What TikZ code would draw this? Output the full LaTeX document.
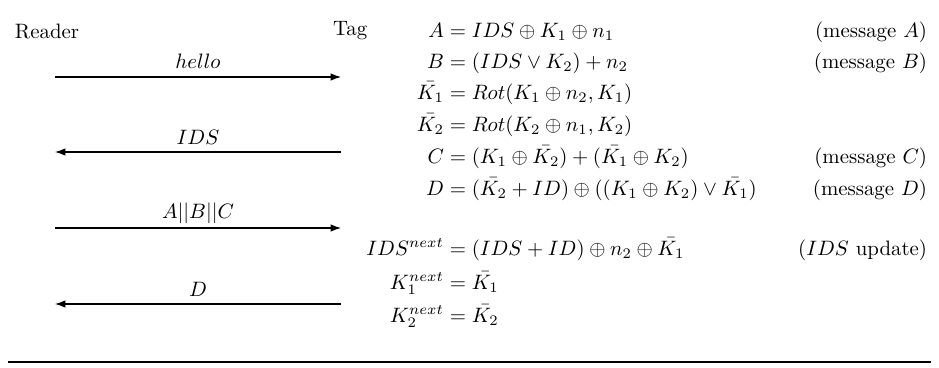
\documentclass[tikz,border=0pt]{standalone}
\usepackage{amsmath}
\usetikzlibrary{arrows.meta}
\begin{document}
\begin{tikzpicture}[x=0.48pt,y=-0.48pt,
  every node/.style={inner sep=0pt,outer sep=0pt,font=\fontsize{10}{12}\selectfont},
  lhs/.style={anchor=base east},
  rhs/.style={anchor=base west},
  tagtxt/.style={anchor=base east},
  msg/.style={-{Latex[length=5pt,width=3.6pt]},line width=0.5pt},
  lbl/.style={anchor=base}]
\useasboundingbox (0,0) rectangle (939,367);
% participants
\node[anchor=base west] (reader) at (15,38) {Reader};
\node[anchor=base west] (tag) at (333,36) {Tag};
% message endpoints
\coordinate (r1) at (55,77);  \coordinate (t1) at (341,77);
\coordinate (r2) at (55,152); \coordinate (t2) at (341,152);
\coordinate (r3) at (55,228); \coordinate (t3) at (341,228);
\coordinate (r4) at (55,304); \coordinate (t4) at (341,304);
\draw[msg] (r1) -- node[lbl,yshift=4.3pt] (l1) {$hello$} (t1);
\draw[msg] (t2) -- node[lbl,yshift=3.4pt] (l2) {$IDS$} (r2);
\draw[msg] (r3) -- node[lbl,yshift=4.8pt] (l3) {$A||B||C$} (t3);
\draw[msg] (t4) -- node[lbl,yshift=3.4pt] (l4) {$D$} (r4);
% equations
\def\eqx{444}
\node[lhs] (ea) at (\eqx,37) {$A$};
\node[rhs] (eab) at (\eqx,37) {${}= IDS \oplus K_1 \oplus n_1$};
\node[tagtxt] (ta) at (927,37) {(message $A$)};
\node[lhs] (eb) at (\eqx,68) {$B$};
\node[rhs] (ebb) at (\eqx,68) {${}= (IDS \vee K_2) + n_2$};
\node[tagtxt] (tb) at (927,68) {(message $B$)};
\node[lhs] (ek1) at (\eqx,99) {$\bar{K_1}$};
\node[rhs] (ek1b) at (\eqx,99) {${}= Rot(K_1 \oplus n_2, K_1)$};
\node[lhs] (ek2) at (\eqx,131) {$\bar{K_2}$};
\node[rhs] (ek2b) at (\eqx,131) {${}= Rot(K_2 \oplus n_1, K_2)$};
\node[lhs] (ec) at (\eqx,163) {$C$};
\node[rhs] (ecb) at (\eqx,163) {${}= (K_1 \oplus \bar{K_2}) + (\bar{K_1} \oplus K_2)$};
\node[tagtxt] (tc) at (927,163) {(message $C$)};
\node[lhs] (ed) at (\eqx,195) {$D$};
\node[rhs] (edb) at (\eqx,195) {${}= (\bar{K_2} + ID) \oplus ((K_1 \oplus K_2) \vee \bar{K_1})$};
\node[tagtxt] (td) at (927,195) {(message $D$)};
\node[lhs] (ei) at (\eqx,255) {$IDS^{next}$};
\node[rhs] (eib) at (\eqx,255) {${}= (IDS + ID) \oplus n_2 \oplus \bar{K_1}$};
\node[tagtxt] (ti) at (927,255) {($IDS$ update)};
\node[lhs] (en1) at (\eqx,289) {$K_1^{next}$};
\node[rhs] (en1b) at (\eqx,289) {${}= \bar{K_1}$};
\node[lhs] (en2) at (\eqx,322) {$K_2^{next}$};
\node[rhs] (en2b) at (\eqx,322) {${}= \bar{K_2}$};
% bottom rule
\coordinate (rl) at (8,362); \coordinate (rr) at (931,362);
\draw[line width=1.3pt] (rl) -- (rr);
\end{tikzpicture}
\end{document}
